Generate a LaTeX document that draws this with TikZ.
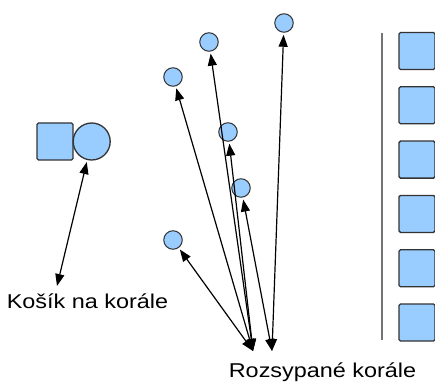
\documentclass[tikz,border=0pt]{standalone}
\usepackage{fontspec}
\setmainfont{Liberation Sans}
\usetikzlibrary{arrows.meta}
\definecolor{coralblue}{HTML}{99CCFF}
\tikzset{
bead/.style={circle, draw=black!80, fill=coralblue, line width=1pt, minimum size=18.5pt, inner sep=0pt},
box/.style={rectangle, rounded corners=1.5pt, draw=black!80, fill=coralblue, line width=1.3pt, minimum width=36pt, minimum height=37pt, inner sep=0pt},
link/.style={<->, >={Triangle[length=12pt,width=9pt]}, line width=1.2pt, shorten >=2pt},
lbl/.style={font=\fontsize{20}{24}\selectfont, inner sep=0pt, anchor=base}
}
\newcommand{\wide}[1]{\scalebox{1.17}[1]{#1}}

\begin{document}
\begin{tikzpicture}[x=1pt,y=-1pt]
\useasboundingbox (0,0) rectangle (435,387);
% basket: square + ball
\node[box] (cube) at (55,141.5) {};
\node[bead, minimum size=37pt, line width=1.3pt] (ball) at (91.7,141.5) {};
\node[lbl] (kosik) at (87.5,308) {\wide{Košík na korále}};
\coordinate (kend) at (57,286);
\draw[link] (kend) -- (ball);

% scattered beads
\node[bead] (b1) at (173,77) {};
\node[bead] (b2) at (209,42) {};
\node[bead] (b3) at (284,23) {};
\node[bead] (b4) at (228,132) {};
\node[bead] (b5) at (241,188) {};
\node[bead] (b6) at (173,240) {};
\coordinate (pa) at (253,351);
\coordinate (pb) at (272,351);
\foreach \b in {b1,b2,b4,b6} \draw[link] (pa) -- (\b);
\foreach \b in {b3,b5} \draw[link] (pb) -- (\b);
\node[lbl] (rozsyp) at (322.5,377) {\wide{Rozsypané korále}};

% row of boxes behind the line
\draw[black!55, line width=2.2pt] (382,33) -- (382,340);
\foreach \i in {0,...,5}
  \node[box] (s\i) at (417,51+54.3*\i) {};
\end{tikzpicture}
\end{document}
